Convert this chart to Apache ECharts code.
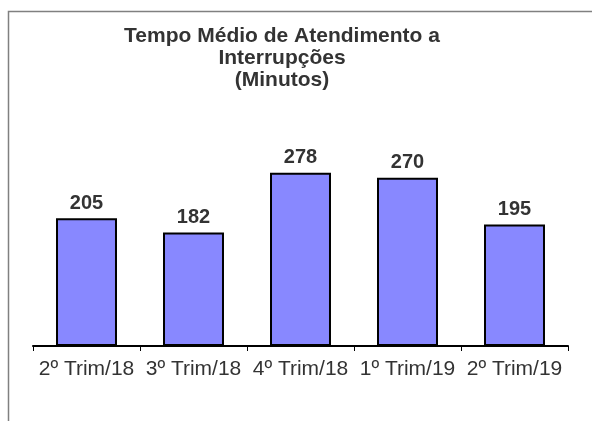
<!DOCTYPE html>
<html><head><meta charset="utf-8">
<script src="https://cdn.jsdelivr.net/npm/echarts@6/dist/echarts.min.js"></script>
<style>html,body{margin:0;padding:0;background:#fff}#c{width:592px;height:421px}</style>
</head><body><div id="c"></div>
<script>
const categories = ['2º Trim/18','3º Trim/18','4º Trim/18','1º Trim/19','2º Trim/19'];
const values = [205, 182, 278, 270, 195];
const titleLines = ['Tempo Médio de Atendimento a','Interrupções','(Minutos)'];

const chart = echarts.init(document.getElementById('c'), null, {renderer:'canvas'});
chart.setOption({
  animation:false,
  graphic:[
    {type:'polyline', shape:{points:[[8.5,421],[8.5,11.5],[592,11.5]]}, style:{stroke:'#808080', lineWidth:1.5, fill:null}}
  ],
  title:{
    text: titleLines.join('\n'),
    left: 282, top: 25, textAlign:'center', padding:0,
    textStyle:{fontFamily:'Liberation Sans, Arial', fontWeight:'bold', fontSize:21, lineHeight:22, color:'#333333'}
  },
  grid:{left:33, right:24, top:159, bottom:75},
  xAxis:{
    type:'category', data:categories,
    axisLine:{lineStyle:{color:'#000', width:2}},
    axisTick:{show:true, alignWithLabel:false, length:5, lineStyle:{color:'#000', width:1}},
    axisLabel:{fontFamily:'Liberation Sans, Arial', fontSize:21, color:'#333333', margin:13, interval:0}
  },
  yAxis:{type:'value', min:0, max:300, show:false, splitLine:{show:false}},
  series:[{
    type:'bar', data:values, barCategoryGap:'43%',
    itemStyle:{color:'#8888FF', borderColor:'#000', borderWidth:2},
    label:{show:true, position:'top', distance:5, fontFamily:'Liberation Sans, Arial', fontWeight:'bold', fontSize:20, color:'#333333'}
  }]
});
</script></body></html>
